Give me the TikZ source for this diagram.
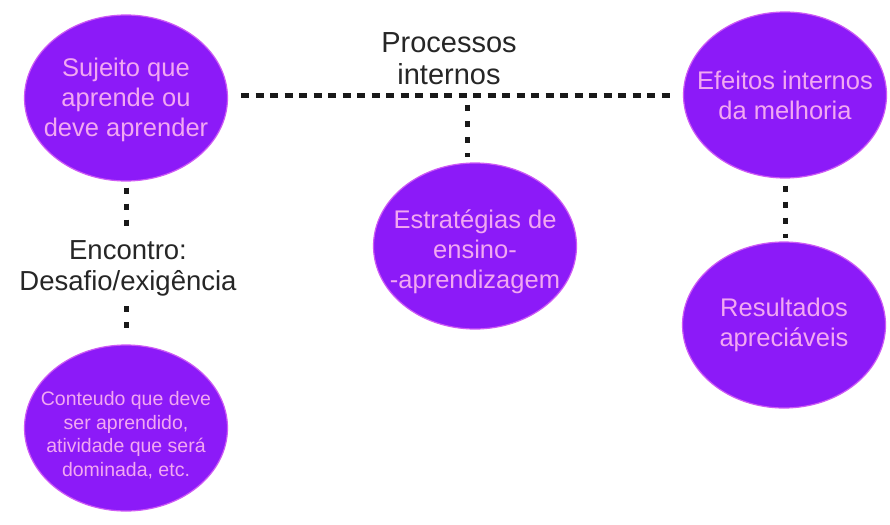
\documentclass[tikz,border=0pt]{standalone}
\usepackage{fontspec}
\setmainfont{Liberation Sans}
\usetikzlibrary{shapes.geometric}
\definecolor{bubble}{RGB}{140,26,248}
\definecolor{bubbleedge}{RGB}{205,90,245}
\definecolor{bubbletext}{RGB}{242,168,242}
\tikzset{
  bubble/.style={ellipse, fill=bubble, draw=bubbleedge, line width=1.2pt,
    minimum width=203pt, minimum height=166pt, inner sep=0pt},
  btext/.style={text=bubbletext, align=center, inner sep=0pt,
    font=\fontsize{25.5}{30}\selectfont},
  smalltext/.style={btext, font=\fontsize{19.5}{23.5}\selectfont},
  label/.style={align=center, text=black!85, inner sep=2pt,
    font=\fontsize{27.5}{31}\selectfont},
  biglabel/.style={label, font=\fontsize{29}{32}\selectfont},
  hdots/.style={line width=5pt, dash pattern=on 8pt off 6.5pt, black!90},
  vdots/.style={line width=5pt, dash pattern=on 6pt off 10pt, black!90},
}
\begin{document}
\begin{tikzpicture}[x=1pt,y=-1pt]
\useasboundingbox[fill=white] (0,0) rectangle (890,524);
\node[bubble] (S) at (126,98) {};
\node[btext] (St) at ([yshift=-2pt]S.center) {Sujeito que\\aprende ou\\deve aprender};
\node[bubble] (E) at (785,95) {};
\node[btext] (Et) at (E.center) {Efeitos internos\\da melhoria};
\node[bubble] (T) at (475,246) {};
\node[btext] (Tt) at ([yshift=-6pt]T.center) {Estratégias de\\ensino-\\-aprendizagem};
\node[bubble] (R) at (784,325) {};
\node[btext] (Rt) at (R.center) {Resultados\\apreciáveis};
\node[bubble] (C) at (126,428) {};
\node[smalltext] (Ct) at ([yshift=-7pt]C.center) {Conteudo que deve\\ser aprendido,\\atividade que será\\dominada, etc.};
\node[biglabel] (P) at (449,59) {Processos\\internos};
\node[label] (L) at (128,268) {Encontro:\\Desafio/exigência};
\coordinate (J) at (467,96);
\draw[hdots, shorten <=13pt, shorten >=10pt] (S.east |- J) -- (E.west |- J);
\draw[vdots, shorten <=9pt, shorten >=5pt] (J) -- (J |- T.north);
\draw[vdots, shorten <=6pt, shorten >=10pt] (S.south) -- (S.south |- L.north);
\draw[vdots, shorten <=8pt, shorten >=9pt] (S.south |- L.south) -- (C.north);
\draw[vdots, shorten <=7pt, shorten >=3pt] (E.south) -- (E.south |- R.north);
\end{tikzpicture}
\end{document}
